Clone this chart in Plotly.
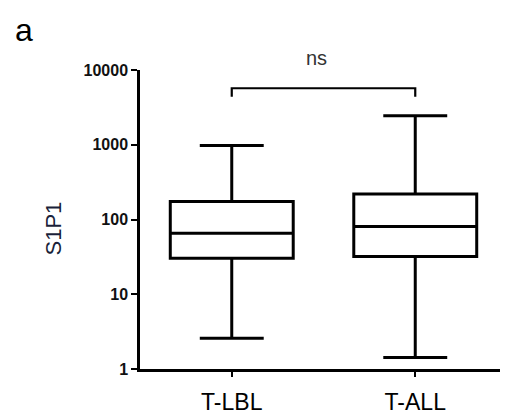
import plotly.graph_objects as go

groups = ["T-LBL", "T-ALL"]
lower = [2.58, 1.42]
q1 = [30.3, 31.9]
median = [65.6, 80.3]
q3 = [174, 220]
upper = [980, 2440]

ytick_vals = [1, 10, 100, 1000, 10000]
ytick_text = ["1", "10", "100", "1000", "10000"]

# bracket for the significance label
bracket_x = ["T-LBL", "T-LBL", "T-ALL", "T-ALL"]
bracket_y = [4400, 5700, 5700, 4400]

fig = go.Figure()

fig.add_trace(
    go.Box(
        x=groups,
        q1=q1,
        median=median,
        q3=q3,
        lowerfence=lower,
        upperfence=upper,
        width=0.67,
        whiskerwidth=0.52,
        fillcolor="rgba(0,0,0,0)",
        line=dict(color="black", width=3),
        boxpoints=False,
        hoverinfo="skip",
    )
)

fig.add_trace(
    go.Scatter(
        x=bracket_x,
        y=bracket_y,
        mode="lines",
        line=dict(color="black", width=2.2),
        hoverinfo="skip",
    )
)

# page body has an 8px margin, so the figure is a bit smaller than the window
fig.update_layout(
    width=500,
    height=410,
    margin=dict(l=132, r=1, t=62, b=49),
    plot_bgcolor="white",
    paper_bgcolor="white",
    showlegend=False,
    font=dict(family="Arial, Liberation Sans", color="black"),
)

fig.update_xaxes(
    type="category",
    range=[-0.5, 1.5],
    showline=True,
    linecolor="black",
    linewidth=2.5,
    ticks="outside",
    ticklen=5,
    tickwidth=2,
    tickcolor="black",
    showgrid=False,
    zeroline=False,
    tickfont=dict(size=23, color="black"),
    ticklabelstandoff=6,
)

fig.update_yaxes(
    type="log",
    range=[0, 4],
    tickvals=ytick_vals,
    ticktext=["<b>%s</b>" % t for t in ytick_text],
    showline=True,
    linecolor="black",
    linewidth=2.5,
    ticks="outside",
    ticklen=6,
    tickwidth=2,
    tickcolor="black",
    showgrid=False,
    zeroline=False,
    tickfont=dict(size=16, color="#111"),
)

# y axis title
fig.add_annotation(
    text="S1P1",
    xref="paper",
    yref="paper",
    x=-0.237,
    y=0.47,
    textangle=-90,
    showarrow=False,
    xanchor="center",
    yanchor="middle",
    font=dict(size=22, color="#1a1f3a"),
)

fig.add_annotation(
    text="ns",
    xref="paper",
    yref="paper",
    x=0.482,
    y=1.04,
    showarrow=False,
    xanchor="center",
    yanchor="middle",
    font=dict(size=20, color="#333"),
)

fig.add_annotation(
    text="a",
    xref="paper",
    yref="paper",
    x=-0.316,
    y=1.135,
    showarrow=False,
    xanchor="center",
    yanchor="middle",
    font=dict(size=32, color="black"),
)

fig.write_html("out.html")
